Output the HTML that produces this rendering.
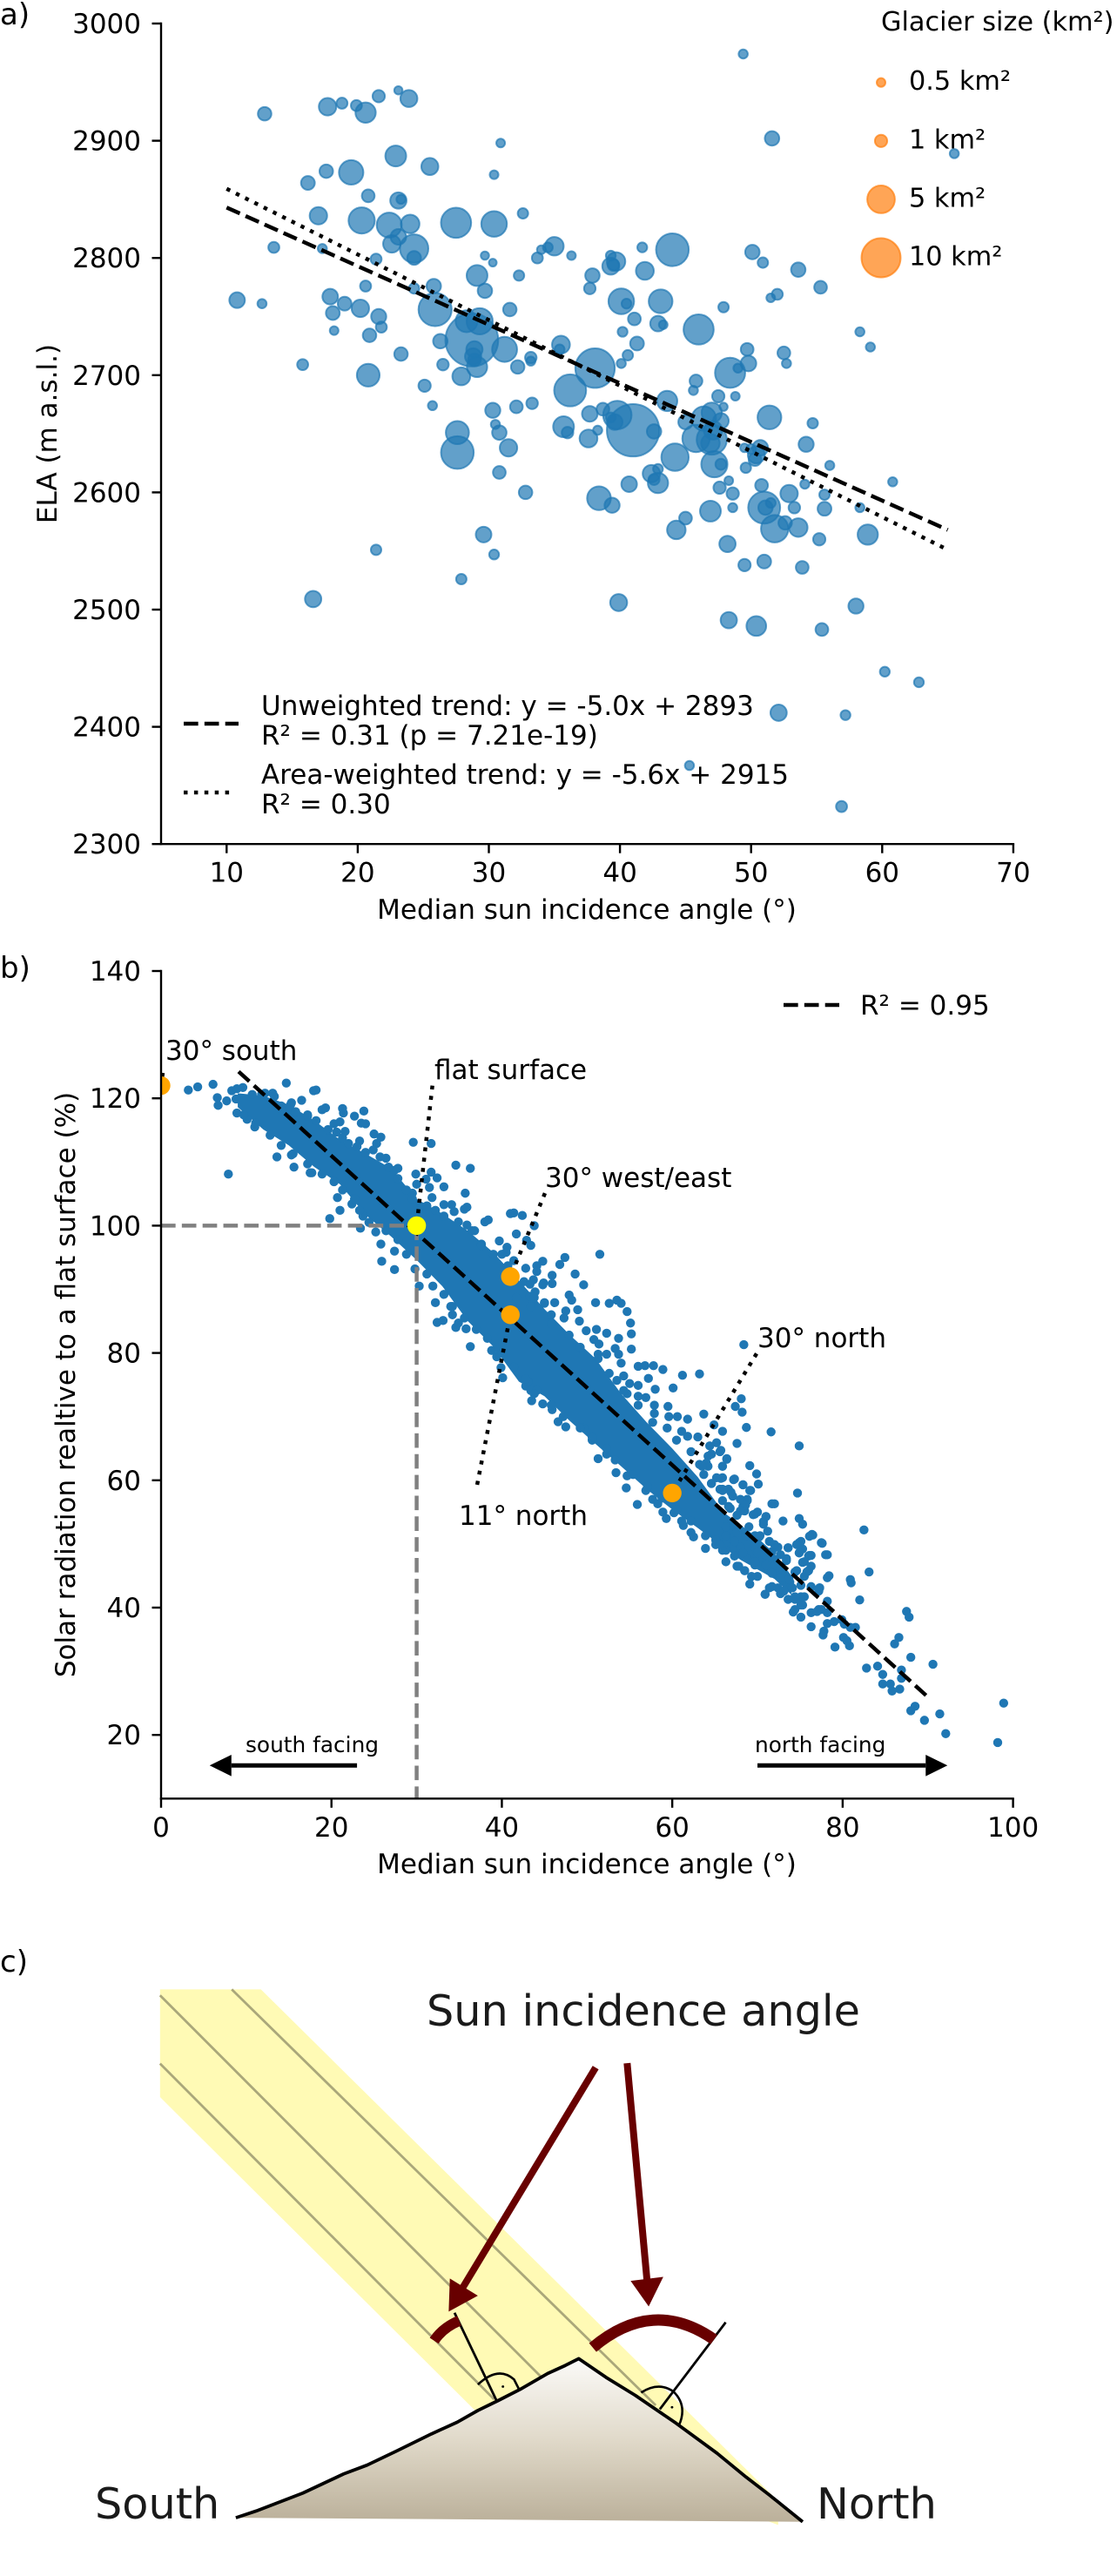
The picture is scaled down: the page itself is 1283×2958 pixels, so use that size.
<!DOCTYPE html>
<html lang="en">
<head>
<meta charset="utf-8">
<title>Glacier ELA and sun incidence angle</title>
<style>
html,body{margin:0;padding:0;background:#fff}
svg{display:block}
text{font-family:"DejaVu Sans","Liberation Sans",sans-serif;fill:#000}
.ns{vector-effect:non-scaling-stroke}
</style>
</head>
<body>
<svg id="figure" xmlns="http://www.w3.org/2000/svg" width="1283" height="2958" viewBox="0 0 1283 2958">
<defs>
<clipPath id="clipA"><rect x="185" y="27" width="979" height="943"/></clipPath>
<clipPath id="clipB"><rect x="185" y="1115" width="979" height="951"/></clipPath>
<linearGradient id="rock" x1="0" y1="0" x2="0" y2="1"><stop offset="0" stop-color="#fbfaf8"/><stop offset="0.5" stop-color="#e0d9c9"/><stop offset="1" stop-color="#bbb09a"/></linearGradient>
</defs>

<g id="panelA">
<text x="0" y="28" font-size="34">a)</text>
<text transform="translate(65 498) rotate(-90)" text-anchor="middle" font-size="31">ELA (m a.s.l.)</text>
<text x="674" y="1055" text-anchor="middle" font-size="31">Median sun incidence angle (°)</text>
<text x="1012" y="35" font-size="30.3">Glacier size (km²)</text>
<text x="300" y="821" font-size="31">Unweighted trend: y = -5.0x + 2893</text>
<text x="300" y="855" font-size="31">R² = 0.31 (p = 7.21e-19)</text>
<text x="300" y="900" font-size="31">Area-weighted trend: y = -5.6x + 2915</text>
<text x="300" y="934" font-size="31">R² = 0.30</text>
<line x1="211" x2="274" y1="831" y2="831" stroke="#000" stroke-width="4.5" stroke-dasharray="16.65 7.2"/>
<line x1="211" x2="268" y1="910" y2="910" stroke="#000" stroke-width="4.5" stroke-dasharray="4.5 7.4"/>
</g>

<g id="panelB">
<text x="0" y="1123" font-size="34">b)</text>
<text transform="translate(86 1590) rotate(-90)" text-anchor="middle" font-size="31">Solar radiation realtive to a flat surface (%)</text>
<text x="674" y="2151" text-anchor="middle" font-size="31">Median sun incidence angle (°)</text>
<text x="190" y="1217" font-size="31">30° south</text>
<text x="499" y="1239" font-size="31">flat surface</text>
<text x="626" y="1363" font-size="31">30° west/east</text>
<text x="870" y="1547" font-size="31">30° north</text>
<text x="527" y="1751" font-size="31">11° north</text>
<text x="282" y="2012" font-size="24.8">south facing</text>
<text x="867" y="2012" font-size="24.8">north facing</text>
<line x1="900" x2="964" y1="1154" y2="1154" stroke="#000" stroke-width="4.5" stroke-dasharray="16.65 7.2"/>
<text x="988" y="1165" font-size="31">R² = 0.95</text>
</g>

<g id="panelC">
<text x="0" y="2264" font-size="34">c)</text>
<g transform="translate(80 2240) scale(.6698 .4579)">
<polygon points="155,97 328,97 1215,1380 1215,1440 700,1160 155,367" fill="#fffab5"/>
<line class="ns" x1="278" y1="97" x2="1005" y2="1140" stroke="#aaa77a" stroke-width="2.8"/>
<line class="ns" x1="155" y1="112" x2="808" y2="1068" stroke="#aaa77a" stroke-width="2.8"/>
<line class="ns" x1="155" y1="283" x2="728" y2="1125" stroke="#aaa77a" stroke-width="2.8"/>
<path d="M285,1422 L320,1405 L400,1360 L470,1312 L510,1290 L560,1255 L620,1212 L665,1182 L700,1153 L735,1128 L775,1098 L820,1060 L850,1040 L873,1023 L920,1070 L970,1115 L1040,1185 L1110,1260 L1160,1320 L1200,1365 L1257,1432 Z" fill="url(#rock)"/>
<path class="ns" d="M285,1422 L320,1405 L400,1360 L470,1312 L510,1290 L560,1255 L620,1212 L665,1182 L700,1153 L735,1128 L775,1098 L820,1060 L850,1040 L873,1023 L920,1070 L970,1115 L1040,1185 L1110,1260 L1160,1320 L1200,1365 L1257,1432" fill="none" stroke="#000" stroke-width="3.8" stroke-linejoin="round"/>
<line class="ns" x1="660" y1="908" x2="732" y2="1128" stroke="#000" stroke-width="2.8"/>
<line class="ns" x1="1125" y1="932" x2="1012" y2="1150" stroke="#000" stroke-width="2.8"/>
<path class="ns" d="M700,1088 Q735,1040 762,1075 L770,1098" fill="none" stroke="#000" stroke-width="2.6"/>
<path class="ns" d="M980,1108 Q1010,1080 1035,1105 Q1060,1140 1045,1190" fill="none" stroke="#000" stroke-width="2.6"/>
<ellipse cx="743" cy="1093" rx="2.2" ry="3" fill="#000"/>
<ellipse cx="1033" cy="1145" rx="2.2" ry="3" fill="#000"/>
<path class="ns" d="M897,995 Q1000,868 1105,975" fill="none" stroke="#680000" stroke-width="13"/>
<path class="ns" d="M625,978 Q640,945 668,928" fill="none" stroke="#680000" stroke-width="12"/>
<line class="ns" x1="902" y1="293" x2="672" y2="850" stroke="#680000" stroke-width="8"/>
<polygon points="652,822 700,865 650,905" fill="#680000"/>
<line class="ns" x1="956" y1="282" x2="990" y2="825" stroke="#680000" stroke-width="8"/>
<polygon points="962,828 1018,818 993,892" fill="#680000"/>
</g>
<text x="490" y="2326" font-size="49.3" style="fill:#1a1a1a">Sun incidence angle</text>
<text x="109" y="2892" font-size="49.3" style="fill:#1a1a1a">South</text>
<text x="938" y="2892" font-size="49.3" style="fill:#1a1a1a">North</text>
</g>
</svg>

<script>
// Panel a axis ticks
const elaXTicks = [10, 20, 30, 40, 50, 60, 70];
const elaYTicks = [2300, 2400, 2500, 2600, 2700, 2800, 2900, 3000];
// Panel a trend lines (as printed in the legend)
const trendRange = [10, 65];
const unweightedTrend = [-5.0, 2893];
const weightedTrend = [-5.6, 2915];
// Panel a legend sizes
const legendAreas = [0.5, 1, 5, 10];
const legendTexts = ['0.5 km²', '1 km²', '5 km²', '10 km²'];
// Panel a glaciers: median sun incidence angle (deg)
const glacierAngle = [
12.9,17.7,18.8,19.9,20.6,21.6,23.1,23.9,30.9,22.9,
25.5,30.4,17.6,19.5,16.2,20.8,23.1,23.3,17,20.3,
22.4,24,27.5,30.4,32.6,13.6,17.3,23.1,22.6,24.3,
24.3,21.4,29.1,29.7,29.7,30.3,32.3,33.7,34,34.5,
35,36.3,37.9,37.7,25.8,24.3,20.6,10.8,12.7,17.9,
19,18.1,20.2,21.6,21.8,18.2,20.9,25.9,28.3,29.3,
31.6,28.7,31.2,26.3,28.9,28.8,28.9,29.1,33.2,33.2,
32.2,35.5,35.4,23.3,26.5,27.9,15.8,20.8,25.1,25.7,
36.2,38.1,30.3,32.1,33.3,37.7,27.6,27.6,30.5,30.8,
31.5,30.8,32.8,35.7,36,37.6,38.3,38.4,29.6,30.4,
21.4,27.9,16.6,49.4,51.6,65.5,41.7,44,39.3,39.7,
39.3,39.5,41.9,50.1,50.9,53.6,55.3,52,51.5,40.1,
40.5,43.1,41.1,42.9,43.3,47.9,46,58.3,59.1,40.2,
41.3,40.6,40.1,49.7,49.8,48.4,49,52.5,52.7,45.8,
45.6,47.5,48.8,47.9,51.4,54.7,54.2,56,60.8,43.6,
41,42.6,39.8,39.6,38.7,39.3,44.2,47,47.7,46.4,
45,45.8,47,46.9,47.1,47.2,47.7,47.6,48.3,48.6,
48.6,46.9,45,44.3,48.2,49.5,51,53.9,39.9,48.3,
50.4,55.4,58,60.2,62.8,52.1,57.2,45.3,56.9,40.7,
42.4,42.9,42.6,42.9,39.4,49.6,50.4,50.7,49.5,50,
50.3,50.8,52.9,54.1,55.6,53.3,55.6,58.3,51,51.1,
51.5,51.8,52.6,53.6,55.2,58.9];
// Panel a glaciers: ELA (m a.s.l.)
const glacierEla = [
2923,2929,2932,2930,2924,2938,2943,2936,2898,2887,
2878,2871,2874,2873,2864,2853,2849,2850,2836,2832,
2828,2829,2830,2829,2838,2809,2808,2818,2812,2808,
2800,2799,2785,2772,2802,2796,2785,2800,2807,2809,
2810,2802,2785,2774,2776,2774,2776,2764,2761,2767,
2761,2753,2757,2750,2741,2738,2734,2756,2746,2746,
2756,2730,2722,2729,2722,2716,2713,2707,2715,2712,
2707,2726,2722,2718,2709,2699,2709,2700,2691,2674,
2687,2706,2670,2673,2676,2667,2651,2634,2658,2651,
2638,2617,2600,2656,2651,2646,2653,2595,2564,2547,
2551,2526,2509,2974,2902,2889,2809,2807,2802,2797,
2793,2794,2789,2805,2796,2790,2775,2769,2766,2763,
2761,2763,2748,2744,2743,2758,2739,2737,2724,2737,
2727,2717,2710,2722,2710,2702,2706,2719,2710,2695,
2687,2682,2682,2673,2664,2659,2641,2623,2609,2678,
2653,2652,2666,2660,2671,2664,2630,2668,2661,2663,
2660,2646,2645,2642,2653,2624,2624,2604,2610,2599,
2587,2584,2578,2568,2556,2538,2541,2536,2506,2491,
2486,2483,2503,2447,2438,2412,2410,2367,2332,2607,
2616,2620,2611,2608,2589,2621,2632,2638,2638,2637,
2628,2606,2599,2607,2598,2587,2586,2587,2587,2587,
2591,2569,2574,2570,2560,2564];
// Panel a glaciers: area (km2)
const glacierArea = [
1.2,2,.8,.8,2.7,1,.45,1.9,.5,2.85,
1.9,.5,1.2,3.9,1.25,1.07,1.75,.55,2,4.5,
4.1,2.26,5.95,4.3,.72,.8,.55,1.6,2,5.3,
1.25,.8,2.85,1.37,.45,.4,.72,.8,.5,.64,
2.26,.5,1.37,.88,1.37,.72,.8,1.6,.55,1.6,
1.25,1.25,2,1.5,.8,.5,1.2,7.2,3.15,4.5,
1.2,18.3,4.1,1.37,1.75,1.75,1.07,2.7,.88,.55,
1.2,2.1,.64,1.2,.88,2.1,.8,3.4,1,.55,
6.7,10.2,1.5,1.07,.88,1.6,3.5,7,.55,1.37,
2,1.07,1.2,2.85,.88,2.1,.55,3.7,1.6,.64,
.72,.72,1.75,.55,1.37,.55,.64,7,.64,2.26,
1.9,.88,2.1,1.37,.72,1.37,1.07,.8,.5,4.3,
.64,3.7,1.07,1.6,.5,.72,5.95,.55,.55,.64,
1.25,.72,.55,1.07,1.6,5.95,.55,1.07,.55,1.07,
.55,1,.5,.45,3.7,.72,1.5,.55,.55,2.7,
18,1.37,5.3,1.6,1.07,.64,4.9,2.7,1.6,3.9,
1.37,4.9,5.95,2.26,2.26,4.5,.8,1,.5,1,
.55,2.85,1.07,2.26,1.75,1,1.25,1.07,1.9,1.75,
2.55,1.07,1.5,.64,.64,1.75,.64,.55,.8,1.6,
2,.64,.8,2.7,1.5,.72,1.9,1.6,.5,.64,
1.07,1.07,2,.55,.72,.88,1.25,.55,6.7,1.37,
.64,4.9,1.2,2.26,1,2.7];

// Panel b axis ticks
const slopeXTicks = [0, 20, 40, 60, 80, 100];
const slopeYTicks = [20, 40, 60, 80, 100, 120, 140];
// Panel b regression end points
const fitAngle = [9.1, 89.8];
const fitRadiation = [124.2, 26.2];
const coreAngle = [9,12,15,18,21,24,27,30,33,36,39,42,45,48,51,54,57,60,63,66,68,70,72,74];
const coreHigh = [120.8,120.4,119,116.5,113.5,111.3,109,104.2,101.9,99.2,95.8,91.4,86.9,82.8,79.1,73.6,69.1,65,60.5,55,53,51,48.5,45];
const coreLow = [118.6,115.1,112.6,109.2,106.5,101.7,98.3,94.6,90.5,85,81,75.5,73.2,69.3,65.7,62.2,58.6,55.4,52.5,49.5,47.5,46,44.5,42];
// Panel b individually visible slope cells
const slopeAngle = [
3.2,4.3,6.1,6.6,6.7,7.7,8.3,8.9,9.6,8.9,
8.8,10.1,11,14.7,13.1,12.2,13.3,15.3,16.5,17.9,
18.2,18.9,19.3,17.2,21.3,21.4,22.7,23.8,23.5,24,
20.3,21,21.6,21.3,23.3,25,25.8,25.3,24.9,26.4,
27.8,27.4,29.6,31.7,29.9,31.7,32.4,31.1,33.2,31.5,
30,34.6,36.3,35.7,31.8,29.5,33.2,34.1,34.4,35.6,
35.9,38,38.4,41,41.4,42.4,43.8,41.7,36.5,39.7,
37.6,40.6,42.9,43.4,40.5,41.4,44.8,44.1,42.8,44.1,
43.7,42.6,44.9,43.3,43.9,43.3,45,7.9,13.6,15.3,
15.6,17.7,20.7,22.4,21,19.8,23.7,23.4,25.2,25.8,
27.4,25.9,27.4,29.8,30.3,32.2,34,34.2,32.4,33.1,
34.6,34.9,35.8,36.3,38.8,39.4,40.1,39.9,42.8,43.6,
43.5,44.8,43.1,51.5,47.4,46.8,48.6,49.6,45.9,45.9,
44.8,47.9,48.2,51,52.6,53.5,54,54.7,55.1,55.2,
55.2,46.2,45,43.8,48.9,47.5,47.3,45.8,49.1,49.9,
51.1,52.3,53.7,50.8,51.4,51.3,53.3,52.3,53.7,54,
68.4,56,56.8,57.8,58.9,61.2,63.2,54.3,53.5,57.2,
56,55,58,60.1,54.7,56,56.9,57.9,59.5,68.1,
67.4,68.2,57.9,59.6,60.6,61.8,63.7,64.9,65.9,68.7,
71.6,61.1,61.8,63,67.6,74.9,65.2,64.4,65.7,66.4,
64.6,65.9,64.2,69.1,69.9,70.1,65.7,67.2,68.3,69.1,
74.7,64.6,65.9,66.9,68.8,71.7,72,68.3,69.7,71,
73,74.9,75.3,70.7,76.5,77.5,74.9,73.6,74.9,76.1,
78,43.4,45.9,46.6,47.5,49.6,50.6,51.3,52.3,53.4,
54.7,54.6,56.9,55.9,57.7,58.3,58.9,59.3,60.2,61.1,
61.3,62.2,62.5,63.9,66.3,65.1,67.6,68.5,69.1,70.9,
66.3,68,69.7,71.4,69.7,72.4,73.4,74.4,75.5,76,
71.7,72.7,73.6,75.5,75.3,74.4,76.3,77.3,77.2,82.5,
83.1,76.4,76.1,77.6,78.2,75.1,74.6,75.3,74.9,76,
76.3,73.6,73.4,75.3,76.3,75.8,75.5,74.6,71.7,72.7,
71.2,70.7,71,70,69.5,68.5,70.2,70.9,72.4,71.4,
70,69.3,71.7,72.7,73.8,74.1,75.1,74.4,75.1,74.2,
75.1,76.3,77,77.5,78.2,78.2,76.3,77.3,77.2,78.2,
78.4,80.9,81,82,76.3,78.2,77.8,77.7,79.1,79,
79.9,80.2,80.9,81.5,80.1,80.5,80.8,87.5,87.8,86.6,
86.1,88,90.6,82.8,84.1,84.7,84.7,85.6,85.8,86.7,
86.9,86.9,88.5,88,91.4,89.6,92.1,98.9,98.2,67.8,
68.5,65.9,67.3,68.6,69.7,68,69.7,70.9,71,72.1,
67.3,68.6,66.3,67.6,66.3,65.1,69.7,71.4,72.4,68.3,
70,65.6,65.9,67.3,68.3,69.2,65.9,67.1,68,68.8,
68.6,68,65.9,66.8,64.2,65.6,66.4,65.9,64.6,64,
63.2,63.7,
10.7,11.8,14.1,15.2,15.8,17.2,18.2,19.6,20.6,22,
23,24,25.7,26.7,27.8,28.8,29.5,31.2,32.2,33.2,
34.9,35.9,36.8,37.6,39,40,40.7,9.7,11.1,12.8,
14.1,15.5,17.2,17.5,18.9,20.3,21.3,22.7,23.3,24.4,
26.4,27.8,28.8,31.2,31.9,33.2,34.2,35.6,37,38.3,
39.7,41.4,42.8,44.1,43.8,45.8,47.2,49.2,50.6,52.3,
53.3,55.4,57.1,58.8,60.5,62.2,63.9,65.6,41.7,43.4,
45.8,47.9,49.2,51.3,52.6,54.3,56,57.7,59.4,60.5,
62.2,63.5,65.2,66.6,66.6,67.6,69,67.6,70.3,72,
71.4,72.7,73.7,75.1,73.1,74.4];
const slopeRadiation = [
121.3,121.8,122.2,120.1,118.9,119.6,121.2,121.5,121.7,117.7,
119.9,116.7,115.5,122.4,120.8,120.8,120.3,119.3,119.7,121.2,
121.3,118.2,118.5,117.4,118.4,117.7,117.2,118,116.1,116,
116,116.3,114.8,113.8,113.3,114.4,113.9,112.9,111.9,110.6,
109,108.7,113.1,112.9,108.1,108.4,107.5,107.3,106.1,106,
106.5,109.5,109,105.1,104.4,105.1,103.3,103.3,102.2,102.6,
102.9,100.6,100.9,101.9,102,101.6,100,98.7,99.2,97.6,
97.1,96.6,97.7,96.9,95.8,94.5,94.4,93.7,93.3,92.8,
91.5,91.2,91,90.8,89.6,88.9,87.9,108.1,110.8,111.1,
109.2,108.3,104.4,103.4,102.4,101.1,101.5,99.6,99,97.1,
96,94.4,93.1,93.2,90.5,87.9,87.3,86,84.8,85.1,
84,84.7,83.8,81,80.4,79.4,76.1,77.7,74.8,74,
72.5,72,75.5,95.5,95,93.9,92.4,90.7,92.2,90.9,
90.7,89.1,88.3,87.9,87.8,88.3,87.8,86.5,84.7,83,
80.6,87.9,87.8,88.7,86.8,86.6,85.5,86,85,83.5,
83.7,83.1,82.3,82.1,81.4,79.8,80.7,79.8,79.8,78.4,
81.3,77.9,78,78,77.4,76.5,76.7,76.4,75.7,76,
74.9,75.2,74.3,74.5,73.6,73.2,73,71.8,71.6,72.8,
71.6,70.7,70.5,70,70,69.6,70.4,68.7,67.7,68.3,
67.6,67.7,66.9,66.8,65.8,65.4,65.9,65.4,64.7,63.3,
64.1,62.2,62.2,62.3,61,59.4,60.3,60.1,59.3,58.4,
58,59.5,58.6,58.1,57,56.3,56.3,55.9,54.7,54.3,
53.6,54,53.1,53.1,51.4,50.2,50.2,49.4,48.6,48.2,
48.3,74.1,71.1,69.2,68.4,68.2,66.3,63.4,64.1,61.2,
60.7,58.8,58.4,56.2,57,56.3,55,54,54.9,53.6,
52.9,51.8,51.1,49.3,47.2,49.9,46.5,45.8,43.7,42.1,
49,48.6,49.5,47.2,46.7,45.8,47.4,45.6,47.2,45.8,
43.3,42.2,41.3,41.7,40.4,39.7,43.3,43.1,39.7,52.2,
45.6,51.5,51.2,50.1,48.3,50.4,49.9,49.2,48.6,48.1,
48.2,49.4,47.7,47.1,46.5,45.6,44.9,45.8,48.8,48.3,
52,53.5,54.3,55,54.6,55.2,51.1,42.1,43.1,43.1,
44.9,44.9,45.4,44.7,44,43.1,41.7,41.3,40.4,39.3,
38.5,39.2,39.4,39.7,39.2,41,43.2,43.1,42.6,44.7,
45,44.4,43.9,41.2,37,37.5,36.3,35.7,33.8,37.8,
38.1,37.4,36.9,36.9,35.3,34.8,34,39.4,38.5,35.3,
34.3,32.2,31.1,30.5,30.8,29.5,28,28,26.9,27.2,
30.2,28.9,24.5,23.8,23.3,22.3,20.2,25,18.8,46.5,
45.8,49,48.1,47.9,47.2,49.5,49.9,48.3,46.7,46.7,
50.4,51.3,51.3,52.4,52.7,50.6,51.3,50.4,49.5,48.6,
48.6,58.6,60.4,60.2,59.3,58.4,58.4,57.5,57,56.8,
56.1,55.2,56.8,55.6,63.8,64.5,63.4,62.2,59.5,62.7,
62.5,60.9,
120.6,120.6,118.8,119,117.9,117.2,116.5,115.1,114.7,112.9,
112.4,111.5,110.8,109.2,107.4,105.6,104.2,103.1,102.4,101.5,
100.6,100.1,99.2,96.9,95.5,95.5,93.7,117.4,116.1,114.2,
112.6,111.3,109.7,108.3,108.1,106.9,105.6,104.2,102.4,100.5,
99.2,97.8,95.5,92.4,90.5,89.2,87.3,85.5,83.7,82.3,
80.5,77.8,75.9,74.1,73.6,71.8,70,68.2,66.8,65,
63.2,60.9,59,57.2,55.4,53.6,51.3,49.9,88.7,87.3,
84.6,82.8,80.9,79.1,76.8,74.1,71.8,69.1,68.2,66.3,
64.5,62.2,60.4,58.6,55.9,54.5,52.7,51.8,51.3,49.9,
48.6,46.3,44.5,43.5,42.6,41.7];
// Panel b highlighted reference slopes
const refAngle = [0, 41, 41, 60];
const refRadiation = [122, 92, 86, 58];
const flatPoint = [30, 100];
// Panel b annotation leader ends (angle, radiation)
const leaderFromAngle = [0, 30, 41, 41, 60];
const leaderFromRadiation = [122, 100, 92, 86, 58];
const leaderToAngle = [0.2, 31.85, 45.06, 37.1, 69.9];
const leaderToRadiation = [124, 122, 105.1, 59.3, 79.9];
const leaderNames = ['leader-30-south', 'leader-flat-surface', 'leader-30-west-east', 'leader-11-north', 'leader-30-north'];
// Panel b facing arrows (angle, from -> tip)
const southArrow = [23, 5.7];
const northArrow = [70, 92.3];
const arrowLevel = 15.2;

const NS = 'http://www.w3.org/2000/svg';
const xA = v => 185 + (v - 5) * 15.06;
const yA = v => 27 + (3000 - v) * 1.346;
const xB = v => 185 + v * 9.786;
const yB = v => 1115 + (140 - v) * 7.31;
const rA = a => 7.1 * Math.sqrt(a);

function make(tag, parent, attrs) {
  const el = document.createElementNS(NS, tag);
  for (const k in attrs) el.setAttribute(k, attrs[k]);
  parent.appendChild(el);
  return el;
}

function drawAxes(parent, x0, x1, y0, y1, xTicks, yTicks, xf, yf) {
  xTicks.forEach(t => {
    const tick = make('line', parent, {x1: xf(t), x2: xf(t), y1: y1, y2: y1 + 10.5, stroke: '#000', 'stroke-width': 2.4});
    
    
    const label = make('text', parent, {x: xf(t), y: y1 + 43.5, 'text-anchor': 'middle', 'font-size': 31});
    label.textContent = t;
    
    
  });
  yTicks.forEach(t => {
    const tick = make('line', parent, {x1: x0 - 10.5, x2: x0, y1: yf(t), y2: yf(t), stroke: '#000', 'stroke-width': 2.4});
    
    
    const label = make('text', parent, {x: x0 - 23, y: yf(t) + 11, 'text-anchor': 'end', 'font-size': 31});
    label.textContent = t;
    
    
  });
  const spineL = make('line', parent, {x1: x0, x2: x0, y1: y0 - 1.2, y2: y1 + 1.2, stroke: '#000', 'stroke-width': 2.4});
  
  
  const spineB = make('line', parent, {x1: x0 - 1.2, x2: x1 + 1.2, y1: y1, y2: y1, stroke: '#000', 'stroke-width': 2.4});
  
  
}

// ---- Panel a ----
const panelA = document.getElementById('panelA');
const plotA = make('g', panelA, {'clip-path': 'url(#clipA)'});


glacierAngle.forEach((v, i) => {
  const c = make('circle', plotA, {cx: xA(v), cy: yA(glacierEla[i]), r: rA(glacierArea[i]), fill: '#1f77b4', 'fill-opacity': .7, stroke: '#1f77b4', 'stroke-opacity': .7, 'stroke-width': 2});
  
  
});
const trendLine1 = make('line', plotA, {x1: xA(trendRange[0]), x2: xA(trendRange[1]), y1: yA(unweightedTrend[0] * trendRange[0] + unweightedTrend[1]), y2: yA(unweightedTrend[0] * trendRange[1] + unweightedTrend[1]), stroke: '#000', 'stroke-width': 4.5, 'stroke-dasharray': '16.65 7.2'});


const trendLine2 = make('line', plotA, {x1: xA(trendRange[0]), x2: xA(trendRange[1]), y1: yA(weightedTrend[0] * trendRange[0] + weightedTrend[1]), y2: yA(weightedTrend[0] * trendRange[1] + weightedTrend[1]), stroke: '#000', 'stroke-width': 4.5, 'stroke-dasharray': '4.5 7.4'});


drawAxes(panelA, 185, xA(70), yA(3000), yA(2300), elaXTicks, elaYTicks, xA, yA);
legendAreas.forEach((a, i) => {
  const cy = 94.7 + i * 67.1;
  const c = make('circle', panelA, {cx: 1012, cy: cy, r: rA(a), fill: '#ff7f0e', 'fill-opacity': .7, stroke: '#ff7f0e', 'stroke-opacity': .7, 'stroke-width': 2});
  
  
  const t = make('text', panelA, {x: 1044, y: cy + 8.5, 'font-size': 30.3});
  t.textContent = legendTexts[i];
  
  
});

// ---- Panel b ----
const panelB = document.getElementById('panelB');
const plotB = make('g', panelB, {'clip-path': 'url(#clipB)'});


const corePts = coreAngle.map((v, i) => xB(v) + ',' + yB(coreHigh[i])).concat(coreAngle.map((v, i) => xB(v) + ',' + yB(coreLow[i])).reverse()).join(' ');
const core = make('polygon', plotB, {points: corePts, fill: '#1f77b4'});


slopeAngle.forEach((v, i) => {
  const c = make('circle', plotB, {cx: xB(v), cy: yB(slopeRadiation[i]), r: 5.2, fill: '#1f77b4'});
  
  
});
const guideH = make('line', plotB, {x1: xB(0), x2: xB(flatPoint[0]), y1: yB(flatPoint[1]), y2: yB(flatPoint[1]), stroke: '#808080', 'stroke-width': 4.5, 'stroke-dasharray': '16.65 7.2'});


const guideV = make('line', plotB, {x1: xB(flatPoint[0]), x2: xB(flatPoint[0]), y1: yB(flatPoint[1]), y2: yB(10), stroke: '#808080', 'stroke-width': 4.5, 'stroke-dasharray': '16.65 7.2'});


const fitLine = make('line', plotB, {x1: xB(fitAngle[0]), x2: xB(fitAngle[1]), y1: yB(fitRadiation[0]), y2: yB(fitRadiation[1]), stroke: '#000', 'stroke-width': 4.5, 'stroke-dasharray': '16.65 7.2'});


leaderToAngle.forEach((v, i) => {
  const l = make('line', plotB, {x1: xB(v), x2: xB(leaderFromAngle[i]), y1: yB(leaderToRadiation[i]), y2: yB(leaderFromRadiation[i]), stroke: '#000', 'stroke-width': 4.5, 'stroke-dasharray': '4.5 7.4'});
  
  
});
refAngle.forEach((v, i) => {
  const c = make('circle', plotB, {cx: xB(v), cy: yB(refRadiation[i]), r: 10.7, fill: '#ffa500'});
  
  
});
const flatDot = make('circle', plotB, {cx: xB(flatPoint[0]), cy: yB(flatPoint[1]), r: 10.7, fill: '#ffff00'});



function facingArrow(range, name) {
  const dir = range[1] > range[0] ? 1 : -1;
  const y = yB(arrowLevel);
  const tip = xB(range[1]);
  const base = tip - dir * 25;
  const shaft = make('line', panelB, {x1: xB(range[0]), x2: base, y1: y, y2: y, stroke: '#000', 'stroke-width': 5});
  
  
  const head = make('polygon', panelB, {points: tip + ',' + y + ' ' + base + ',' + (y - 12.3) + ' ' + base + ',' + (y + 12.3), fill: '#000'});
  
  
}
facingArrow(southArrow, 'south-facing-arrow');
facingArrow(northArrow, 'north-facing-arrow');
drawAxes(panelB, 185, xB(100), yB(140), yB(10), slopeXTicks, slopeYTicks, xB, yB);
</script>
</body>
</html>
